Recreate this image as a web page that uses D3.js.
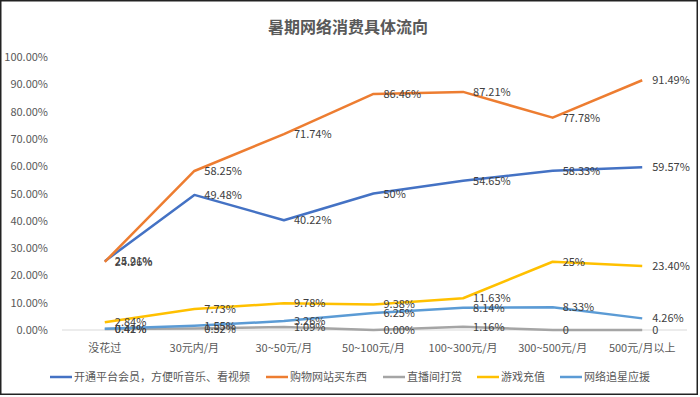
<!DOCTYPE html>
<html>
<head>
<meta charset="utf-8">
<script src="https://cdn.jsdelivr.net/npm/d3@7"></script>
<style>
  body { margin: 0; background: #fff; }
  text { font-family: "Noto Sans CJK SC", "Noto Sans", sans-serif; }
</style>
</head>
<body>
<div id="chart"></div>
<script>
// data
const categories = ["没花过", "30元内/月", "30~50元/月", "50~100元/月", "100~300元/月", "300~500元/月", "500元/月以上"];
const seriesNames = ["开通平台会员，方便听音乐、看视频", "购物网站买东西", "直播间打赏", "游戏充值", "网络追星应援"];
const memberValues = [25.21, 49.48, 40.22, 50, 54.65, 58.33, 59.57];
const memberLabels = ["25.21%", "49.48%", "40.22%", "50%", "54.65%", "58.33%", "59.57%"];
const shopValues = [24.96, 58.25, 71.74, 86.46, 87.21, 77.78, 91.49];
const shopLabels = ["24.96%", "58.25%", "71.74%", "86.46%", "87.21%", "77.78%", "91.49%"];
const liveValues = [0.41, 0.52, 1.09, 0.00, 1.16, 0, 0];
const liveLabels = ["0.41%", "0.52%", "1.09%", "0.00%", "1.16%", "0", "0"];
const gameValues = [2.84, 7.73, 9.78, 9.38, 11.63, 25, 23.40];
const gameLabels = ["2.84%", "7.73%", "9.78%", "9.38%", "11.63%", "25%", "23.40%"];
const fanValues = [0.42, 1.55, 3.26, 6.25, 8.14, 8.33, 4.26];
const fanLabels = ["0.42%", "1.55%", "3.26%", "6.25%", "8.14%", "8.33%", "4.26%"];
const yTicks = [0, 10, 20, 30, 40, 50, 60, 70, 80, 90, 100];

const colors = ["#4472C4", "#ED7D31", "#A5A5A5", "#FFC000", "#5B9BD5"];

const series = [
    {name: seriesNames[0], values: memberValues, labels: memberLabels},
    {name: seriesNames[1], values: shopValues, labels: shopLabels},
    {name: seriesNames[2], values: liveValues, labels: liveLabels},
    {name: seriesNames[3], values: gameValues, labels: gameLabels},
    {name: seriesNames[4], values: fanValues, labels: fanLabels}
];

const width = 700, height = 397;
const margin = {top: 57, right: 13, bottom: 67, left: 60};

const svg = d3.select("#chart").append("svg")
    .attr("width", width)
    .attr("height", height);

svg.append("rect")
    .attr("x", 0.75).attr("y", 0.75)
    .attr("width", width - 3.5).attr("height", height - 3.5)
    .attr("fill", "#fff")
    .attr("stroke", "#222")
    .attr("stroke-width", 1.5);

//scales
const x = d3.scaleBand()
    .domain(categories)
    .range([margin.left, width - margin.right]);
const y = d3.scaleLinear()
    .domain([0, 100])
    .range([height - margin.bottom, margin.top]);

const cx = d => x(d) + x.bandwidth() / 2;

// title
svg.append("text")
    .attr("x", 348)
    .attr("y", 33)
    .attr("text-anchor", "middle")
    .attr("font-size", "16px")
    .attr("font-weight", "bold")
    .attr("fill", "#595959")
    .text("暑期网络消费具体流向");

// y axis
const yAxis = svg.append("g")
    .attr("transform", `translate(${margin.left - 9},0)`)
    .call(d3.axisLeft(y).tickValues(yTicks).tickSize(0).tickFormat(d => d.toFixed(2) + "%"));
yAxis.select(".domain").remove();
yAxis.selectAll("text")
    .attr("font-size", "11px")
    .attr("fill", "#595959")
    .attr("font-family", "'Noto Sans CJK SC', 'Noto Sans', sans-serif");

// zero line
svg.append("line")
    .attr("x1", margin.left + 2).attr("x2", width - margin.right)
    .attr("y1", y(0)).attr("y2", y(0))
    .attr("stroke", "#d9d9d9")
    .attr("stroke-width", 1);

// x axis
const xAxis = svg.append("g")
    .attr("transform", `translate(0,${y(0) + 11})`)
    .call(d3.axisBottom(x).tickSize(0));
xAxis.select(".domain").remove();
xAxis.selectAll("text")
    .attr("font-size", "11px")
    .attr("fill", "#595959")
    .attr("font-family", "'Noto Sans CJK SC', 'Noto Sans', sans-serif");

// lines
const line = d3.line()
    .x((d, i) => cx(categories[i]))
    .y(d => y(d));

series.forEach((s, k) => {
    svg.append("path")
        .datum(s.values)
        .attr("fill", "none")
        .attr("stroke", colors[k])
        .attr("stroke-width", 2.5)
        .attr("stroke-linejoin", "round")
        .attr("d", line);
});

// data labels
series.forEach((s, k) => {
    svg.append("g")
        .selectAll("text")
        .data(s.values)
        .enter()
        .append("text")
        .attr("x", (d, i) => cx(categories[i]) + 10)
        .attr("y", d => y(d) + 4)
        .attr("font-size", "11px")
        .attr("fill", "#404040")
        .text((d, i) => s.labels[i]);
});

// legend
const legendX = [50, 266, 383, 477, 560];
const legend = svg.append("g")
    .selectAll("g")
    .data(series)
    .enter()
    .append("g")
    .attr("transform", (d, i) => `translate(${legendX[i]},377)`);

legend.append("line")
    .attr("x1", 0).attr("x2", 22)
    .attr("y1", 0).attr("y2", 0)
    .attr("stroke", (d, i) => colors[i])
    .attr("stroke-width", 2.5);

legend.append("text")
    .attr("x", 24)
    .attr("y", 4)
    .attr("font-size", "11px")
    .attr("fill", "#595959")
    .text(d => d.name);
</script>
</body>
</html>
